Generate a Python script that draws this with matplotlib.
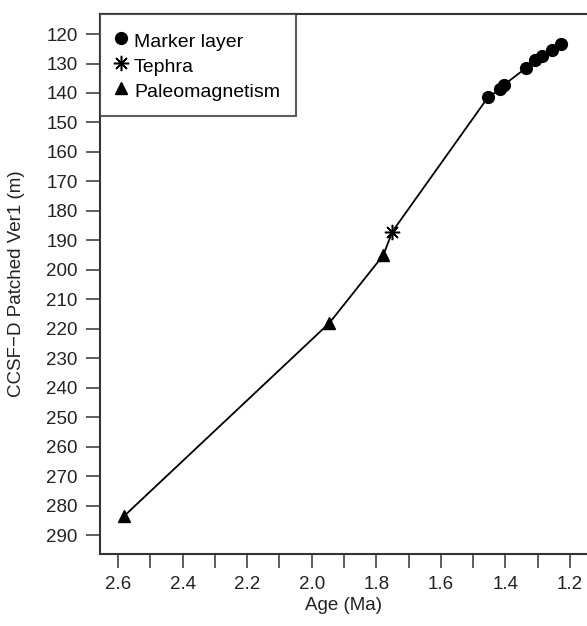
import matplotlib
matplotlib.use("Agg")
import matplotlib.pyplot as plt
from matplotlib.ticker import MultipleLocator

plt.rcParams['font.family'] = ['Liberation Sans', 'DejaVu Sans']

# marker layers (age in Ma, depth in m)
marker_age = [1.454, 1.417, 1.405, 1.337, 1.309, 1.285, 1.254, 1.229]
marker_depth = [141.5, 138.8, 137.3, 131.6, 128.8, 127.4, 125.4, 123.4]

# tephra
tephra_age = [1.750]
tephra_depth = [187.0]

# paleomagnetic datums
paleo_age = [2.581, 1.945, 1.778]
paleo_depth = [283.5, 218.0, 195.0]

# age-depth line through all tie points
all_pts = sorted(zip(marker_age + tephra_age + paleo_age,
                     marker_depth + tephra_depth + paleo_depth))
line_age = [p[0] for p in all_pts]
line_depth = [p[1] for p in all_pts]

fig = plt.figure(figsize=(5.87, 6.26), dpi=100)
ax = fig.add_axes([100/587, 1 - 554/626, 1 - 100/587, (554 - 14)/626])

ax.plot(line_age, line_depth, color='black', lw=1.3, zorder=2)
ax.plot(marker_age, marker_depth, 'o', color='black', ms=8.5, ls='none',
        label='Marker layer', zorder=3)
ax.plot(tephra_age, tephra_depth, marker=(8, 2, 0), color='black', ms=11,
        mew=1.1, ls='none', label='Tephra', zorder=3)
ax.plot(paleo_age, paleo_depth, '^', color='black', ms=8.5, ls='none',
        label='Paleomagnetism', zorder=3)

ax.set_xlim(2.656, 1.147)
ax.set_ylim(296.4, 113.2)

ax.xaxis.set_major_locator(MultipleLocator(0.2))
ax.xaxis.set_minor_locator(MultipleLocator(0.1))
ax.yaxis.set_major_locator(MultipleLocator(10))
ax.xaxis.set_major_formatter(matplotlib.ticker.FormatStrFormatter('%.1f'))

ax.tick_params(axis='both', which='both', direction='out', length=10,
               width=1.1, color='#333333', labelsize=13.5, pad=6,
               labelcolor='#222222')
ax.tick_params(axis='x', which='minor', length=10)

for s in ['left', 'bottom', 'top']:
    ax.spines[s].set_linewidth(1.5)
    ax.spines[s].set_color('#333333')
ax.spines['right'].set_visible(False)

ax.set_xlabel('Age (Ma)', fontsize=13.5, color='#222222', labelpad=3)
ax.set_ylabel('CCSF\u2212D Patched Ver1 (m)', fontsize=13.5, color='#222222',
              labelpad=15)

leg = ax.legend(loc='upper left', borderaxespad=0, fontsize=14,
                frameon=True, fancybox=False, handletextpad=0.35,
                handlelength=0.6, handleheight=1.3, borderpad=0.8,
                labelspacing=0.2)
leg.get_frame().set_edgecolor('#333333')
leg.get_frame().set_linewidth(1.5)

fig.savefig('out.png', dpi=100)
